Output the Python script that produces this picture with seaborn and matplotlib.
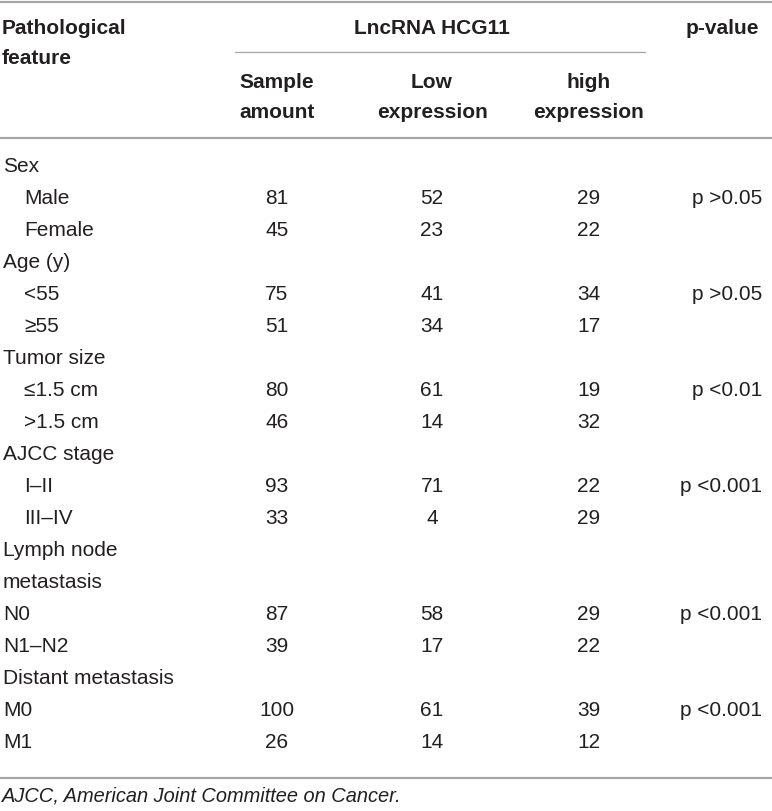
import matplotlib
matplotlib.use("Agg")
import matplotlib.pyplot as plt
import seaborn as sns

# table content
features = ["Sex", "Male", "Female", "Age (y)", "<55", "≥55",
            "Tumor size", "≤1.5 cm", ">1.5 cm", "AJCC stage", "I–II", "III–IV",
            "Lymph node", "metastasis", "N0", "N1–N2",
            "Distant metastasis", "M0", "M1"]
indent = [0, 1, 1, 0, 1, 1, 0, 1, 1, 0, 1, 1, 0, 0, 0, 0, 0, 0, 0]
sample_amount = ["", "81", "45", "", "75", "51", "", "80", "46", "", "93", "33",
                 "", "", "87", "39", "", "100", "26"]
low_expr = ["", "52", "23", "", "41", "34", "", "61", "14", "", "71", "4",
            "", "", "58", "17", "", "61", "14"]
high_expr = ["", "29", "22", "", "34", "17", "", "19", "32", "", "22", "29",
             "", "", "29", "22", "", "39", "12"]
p_values = ["", "p >0.05", "", "", "p >0.05", "", "", "p <0.01", "", "",
            "p <0.001", "", "", "", "p <0.001", "", "", "p <0.001", ""]
footnote = "AJCC, American Joint Committee on Cancer."

sns.set_theme(style="white")
plt.rcParams["font.family"] = ["Liberation Sans", "DejaVu Sans"]

W, H = 772, 811
fig = plt.figure(figsize=(W / 100, H / 100), dpi=100)
ax = fig.add_axes([0, 0, 1, 1])
ax.set_xlim(0, W)
ax.set_ylim(H, 0)
ax.axis("off")

txt = "#231f20"
line = "#a6a6a6"
fs = 15

# rules
ax.plot([0, W], [1.5, 1.5], color=line, lw=1.6)
ax.plot([235, 645], [52, 52], color=line, lw=0.9)
ax.plot([0, W], [138, 138], color=line, lw=1.6)
ax.plot([0, W], [778, 778], color=line, lw=1.6)

# header
ax.text(2, 29, "Pathological", fontsize=fs, weight="bold", color=txt, va="center")
ax.text(2, 58, "feature", fontsize=fs, weight="bold", color=txt, va="center")
ax.text(432, 29, "LncRNA HCG11", fontsize=fs, weight="bold", color=txt, va="center", ha="center")
ax.text(722, 29, "p-value", fontsize=fs, weight="bold", color=txt, va="center", ha="center")
col_x = [277, 432, 589]
for cx, (a, b) in zip(col_x, [("Sample", "amount"), ("Low", "expression"), ("high", "expression")]):
    ax.text(cx, 83, a, fontsize=fs, weight="bold", color=txt, va="center", ha="center")
    ax.text(cx, 112, b, fontsize=fs, weight="bold", color=txt, va="center", ha="center")

# body
y0, dy = 167, 32
for i, f in enumerate(features):
    y = y0 + i * dy
    ax.text(3 + 21 * indent[i], y, f, fontsize=fs, color=txt, va="center")
    for cx, col in zip(col_x, [sample_amount, low_expr, high_expr]):
        ax.text(cx, y, col[i], fontsize=fs, color=txt, va="center", ha="center")
    ax.text(762, y, p_values[i], fontsize=fs, color=txt, va="center", ha="right")

ax.text(2, 796, footnote, fontsize=14.4, style="italic", color=txt, va="center")

fig.savefig("out.png", dpi=100)
